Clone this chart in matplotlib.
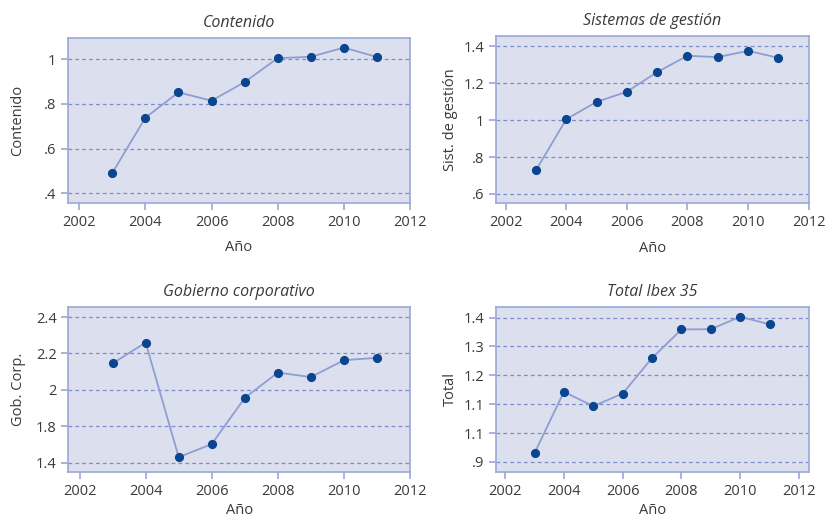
import matplotlib.pyplot as plt

# Years and the four index series
years = [2003, 2004, 2005, 2006, 2007, 2008, 2009, 2010, 2011]
contenido = [0.491, 0.738, 0.851, 0.814, 0.897, 1.004, 1.010, 1.051, 1.009]
sistemas = [0.728, 1.005, 1.099, 1.154, 1.261, 1.349, 1.342, 1.376, 1.338]
gobierno = [2.145, 2.260, 1.630, 1.702, 1.956, 2.095, 2.070, 2.163, 2.176]
total = [0.930, 1.143, 1.093, 1.137, 1.260, 1.359, 1.360, 1.403, 1.377]

x_ticks = [2002, 2004, 2006, 2008, 2010, 2012]
cont_ticks = [0.4, 0.6, 0.8, 1.0]
cont_labels = ['.4', '.6', '.8', '1']
sist_ticks = [0.6, 0.8, 1.0, 1.2, 1.4]
sist_labels = ['.6', '.8', '1', '1.2', '1.4']
gob_ticks = [1.6, 1.8, 2.0, 2.2, 2.4]
gob_labels = ['1.4', '1.8', '2', '2.2', '2.4']
tot_ticks = [0.9, 1.0, 1.1, 1.2, 1.3, 1.4]
tot_labels = ['.9', '1.1', '1.1', '1.2', '1.3', '1.4']

plt.rcParams['font.family'] = ['Open Sans', 'DejaVu Sans']

bg = '#dcdfee'
frame = '#9aa8d6'
grid = '#7b8cca'
line_c = '#8d9ed2'
dot_c = '#0a4690'
text_c = '#3a3a3a'

fig = plt.figure(figsize=(8.28, 5.19), dpi=100)

panels = [
    # rect, data, title, ylabel, yticks, ylabels, xlim, ylim, ylabel x, xlabel pad
    ([0.0821, 0.6089, 0.4131, 0.3179], contenido, 'Contenido', 'Contenido',
     cont_ticks, cont_labels, (2001.66, 2012.0), (0.357, 1.094), -0.125, 7.5),
    ([0.5990, 0.6083, 0.3777, 0.3229], sistemas, 'Sistemas de gestión', 'Sist. de gestión',
     sist_ticks, sist_labels, (2001.68, 2012.0), (0.549, 1.458), -0.122, 7.5),
    ([0.0825, 0.0900, 0.4127, 0.3191], gobierno, 'Gobierno corporativo', 'Gob. Corp.',
     gob_ticks, gob_labels, (2001.66, 2012.0), (1.547, 2.457), -0.125, 3),
    ([0.5994, 0.0906, 0.3773, 0.3185], total, 'Total Ibex 35', 'Total',
     tot_ticks, tot_labels, (2001.70, 2012.33), (0.865, 1.438), -0.122, 3),
]

for rect, vals, title, ylab, yt, yl, xl, yl_lim, ylx, xpad in panels:
    ax = fig.add_axes(rect)
    ax.set_facecolor(bg)
    for s in ax.spines.values():
        s.set_color(frame)
        s.set_linewidth(1.2)
    ax.set_xlim(*xl)
    ax.set_ylim(*yl_lim)
    ax.set_xticks(x_ticks)
    ax.set_yticks(yt)
    ax.set_yticklabels(yl)
    for v in yt:
        ax.axhline(v, color=grid, lw=0.9, ls=(0, (3, 2.5)), zorder=1)
    ax.plot(years, vals, color=line_c, lw=1.3, zorder=2)
    ax.plot(years, vals, 'o', color=dot_c, ms=5.6, zorder=3)
    ax.tick_params(colors=frame, labelcolor=text_c, labelsize=10.5, length=5, width=1.2)
    ax.set_title(title, style='italic', fontsize=11.5, color=text_c, pad=8)
    ax.set_xlabel('Año', fontsize=10.5, color=text_c, labelpad=xpad)
    ax.set_ylabel(ylab, fontsize=10.5, color=text_c)
    ax.yaxis.set_label_coords(ylx, 0.5)

fig.savefig('out.png', dpi=100)
